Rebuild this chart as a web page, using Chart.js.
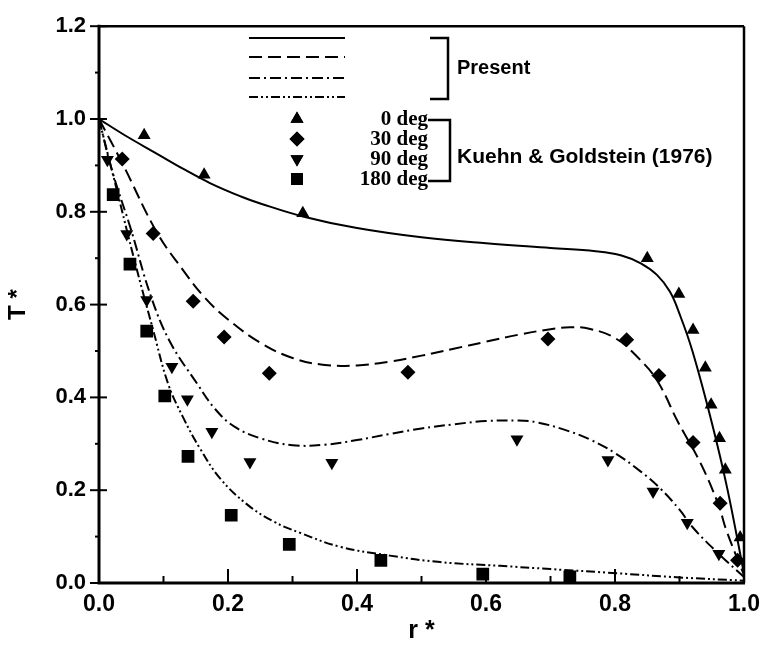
<!DOCTYPE html>
<html>
<head>
<meta charset="utf-8">
<script src="https://cdn.jsdelivr.net/npm/chart.js@4.4.1/dist/chart.umd.min.js"></script>
<style>
  html, body { margin: 0; padding: 0; background: #fff; }
  #wrap { width: 768px; height: 651px; }
</style>
</head>
<body>
<div id="wrap"><canvas id="graph" width="768" height="651"></canvas></div>
<script>
// present model curves, r* against T*
var present0R = [0, 0.04, 0.09, 0.13, 0.172, 0.22, 0.25, 0.316, 0.4, 0.5, 0.6, 0.7, 0.77, 0.81, 0.84, 0.865, 0.885, 0.9, 0.92, 0.95, 0.974, 1.0];
var present0T = [1.0, 0.965, 0.925, 0.893, 0.862, 0.833, 0.818, 0.79, 0.765, 0.745, 0.732, 0.722, 0.715, 0.706, 0.689, 0.664, 0.628, 0.58, 0.5, 0.346, 0.204, 0.02];

var present30R = [0, 0.036, 0.09, 0.13, 0.164, 0.2, 0.25, 0.3, 0.35, 0.4, 0.45, 0.5, 0.55, 0.6, 0.65, 0.7, 0.73, 0.76, 0.8, 0.834, 0.865, 0.898, 0.932, 0.96, 0.973, 1.0];
var present30T = [1.0, 0.905, 0.755, 0.675, 0.615, 0.568, 0.518, 0.485, 0.47, 0.469, 0.477, 0.49, 0.505, 0.52, 0.535, 0.547, 0.551, 0.548, 0.528, 0.488, 0.437, 0.346, 0.26, 0.17, 0.112, 0.017];

var present90R = [0, 0.02, 0.05, 0.08, 0.11, 0.152, 0.18, 0.21, 0.25, 0.3, 0.35, 0.4, 0.45, 0.5, 0.55, 0.6, 0.65, 0.68, 0.72, 0.76, 0.8, 0.84, 0.87, 0.9, 0.921, 0.96, 1.0];
var present90T = [1.0, 0.89, 0.76, 0.62, 0.52, 0.43, 0.375, 0.337, 0.312, 0.297, 0.298, 0.308, 0.321, 0.333, 0.342, 0.349, 0.35, 0.346, 0.331, 0.31, 0.28, 0.24, 0.204, 0.158, 0.119, 0.064, 0.013];

var present180R = [0, 0.028, 0.056, 0.084, 0.107, 0.13, 0.157, 0.188, 0.229, 0.27, 0.312, 0.374, 0.451, 0.529, 0.622, 0.7, 0.803, 0.9, 1.0];
var present180T = [1.0, 0.845, 0.69, 0.545, 0.43, 0.358, 0.289, 0.225, 0.17, 0.133, 0.108, 0.078, 0.059, 0.045, 0.037, 0.03, 0.021, 0.012, 0.005];

// Kuehn & Goldstein (1976) measurements
var kg0R = [0.07, 0.163, 0.316, 0.85, 0.899, 0.921, 0.94, 0.949, 0.962, 0.971, 0.994];
var kg0T = [0.965, 0.88, 0.797, 0.70, 0.623, 0.545, 0.464, 0.384, 0.312, 0.244, 0.098];

var kg30R = [0.036, 0.084, 0.146, 0.194, 0.264, 0.479, 0.696, 0.818, 0.868, 0.921, 0.963, 0.99];
var kg30T = [0.914, 0.753, 0.607, 0.53, 0.452, 0.454, 0.526, 0.524, 0.447, 0.303, 0.172, 0.049];

var kg90R = [0.013, 0.043, 0.074, 0.113, 0.137, 0.175, 0.234, 0.361, 0.648, 0.789, 0.859, 0.912, 0.961];
var kg90T = [0.912, 0.752, 0.61, 0.466, 0.396, 0.326, 0.261, 0.259, 0.31, 0.265, 0.197, 0.13, 0.063];

var kg180R = [0.022, 0.048, 0.074, 0.102, 0.138, 0.205, 0.295, 0.437, 0.595, 0.73];
var kg180T = [0.837, 0.687, 0.543, 0.403, 0.273, 0.146, 0.083, 0.049, 0.019, 0.013];

var angleLabels = ['0 deg', '30 deg', '90 deg', '180 deg'];
var dashes = [[], [13, 6], [11, 4, 2, 4], [9, 3, 2, 3, 2, 3]];
var markers = [
  { style: 'triangle', rot: 0 },
  { style: 'rectRot', rot: 0 },
  { style: 'triangle', rot: 180 },
  { style: 'rect', rot: 0 }
];

function pts(xs, ys) {
  return xs.map(function (v, i) { return { x: v, y: ys[i] }; });
}

var curves = [
  pts(present0R, present0T),
  pts(present30R, present30T),
  pts(present90R, present90T),
  pts(present180R, present180T)
];
var measured = [
  pts(kg0R, kg0T),
  pts(kg30R, kg30T),
  pts(kg90R, kg90T),
  pts(kg180R, kg180T)
];

var datasets = [];
curves.forEach(function (d, i) {
  datasets.push({
    data: d,
    showLine: true,
    borderColor: '#000',
    borderWidth: 2,
    borderDash: dashes[i],
    pointRadius: 0,
    tension: 0.4
  });
});
var radii = [7.5, 7.5, 7.5, 9];
measured.forEach(function (d, i) {
  datasets.push({
    data: d,
    showLine: false,
    pointStyle: markers[i].style,
    rotation: markers[i].rot,
    pointRadius: radii[i],
    backgroundColor: '#000',
    borderColor: '#000',
    borderWidth: 0
  });
});

var sans = '"Liberation Sans", Arial, sans-serif';
var serif = '"Liberation Serif", "Times New Roman", serif';

function isMajor(v) { return Math.round(v * 10) % 2 === 0; }

// box, tick marks and the key
var decor = {
  id: 'decor',
  afterDraw: function (chart) {
    var ctx = chart.ctx, a = chart.chartArea;
    var xs = chart.scales.x, ys = chart.scales.y;
    ctx.save();
    ctx.strokeStyle = '#000';
    ctx.fillStyle = '#000';

    // frame
    ctx.lineWidth = 2.5;
    ctx.beginPath();
    ctx.moveTo(a.left, a.top); ctx.lineTo(a.right, a.top);
    ctx.moveTo(a.right, a.top); ctx.lineTo(a.right, a.bottom);
    ctx.stroke();
    ctx.lineWidth = 3;
    ctx.beginPath();
    ctx.moveTo(a.left, a.top - 1.5); ctx.lineTo(a.left, a.bottom);
    ctx.lineTo(a.right + 1, a.bottom);
    ctx.stroke();

    // tick marks
    ctx.lineWidth = 2;
    ys.ticks.forEach(function (t) {
      var py = ys.getPixelForValue(t.value);
      ctx.beginPath();
      if (isMajor(t.value)) { ctx.moveTo(a.left - 9, py); ctx.lineTo(a.left + 8, py); }
      else { ctx.moveTo(a.left - 4, py); ctx.lineTo(a.left + 1, py); }
      ctx.stroke();
    });
    xs.ticks.forEach(function (t) {
      if (t.value <= 0 || t.value >= 1) return;
      var px = xs.getPixelForValue(t.value);
      ctx.beginPath();
      ctx.moveTo(px, a.bottom);
      ctx.lineTo(px, a.bottom - (isMajor(t.value) ? 14 : 7));
      ctx.stroke();
    });

    // key: line samples
    var lx0 = 249, lx1 = 345, ly = [38, 57, 78, 97];
    ctx.lineWidth = 2;
    ly.forEach(function (y, i) {
      ctx.setLineDash(dashes[i]);
      ctx.beginPath(); ctx.moveTo(lx0, y); ctx.lineTo(lx1, y); ctx.stroke();
    });
    ctx.setLineDash([]);

    ctx.lineWidth = 2.5;
    ctx.beginPath();
    ctx.moveTo(430, 38); ctx.lineTo(448, 38); ctx.lineTo(448, 99); ctx.lineTo(430, 99);
    ctx.stroke();

    ctx.font = 'bold 20px ' + sans;
    ctx.textAlign = 'left';
    ctx.textBaseline = 'middle';
    ctx.fillText('Present', 457, 68);

    // key: markers
    var my = [119, 139, 159, 179];
    my.forEach(function (y, i) {
      Chart.helpers.drawPoint(ctx, {
        pointStyle: markers[i].style,
        rotation: markers[i].rot,
        radius: i === 3 ? 8.5 : 7.5,
        borderWidth: 0
      }, 297, y);
      ctx.fill();
    });

    ctx.font = 'bold 21px ' + serif;
    ctx.textAlign = 'right';
    my.forEach(function (y, i) { ctx.fillText(angleLabels[i], 428, y + 1); });

    ctx.lineWidth = 2.5;
    ctx.beginPath();
    ctx.moveTo(428, 120); ctx.lineTo(450, 120); ctx.lineTo(450, 181); ctx.lineTo(428, 181);
    ctx.stroke();

    ctx.font = 'bold 21px ' + sans;
    ctx.textAlign = 'left';
    ctx.fillText('Kuehn & Goldstein (1976)', 457, 157);
    ctx.restore();
  }
};

new Chart(document.getElementById('graph').getContext('2d'), {
  type: 'scatter',
  data: { datasets: datasets },
  options: {
    responsive: false,
    devicePixelRatio: 1,
    animation: false,
    layout: { padding: { top: 17, right: 23, left: 0, bottom: 0 } },
    plugins: { legend: { display: false }, tooltip: { enabled: false } },
    scales: {
      x: {
        type: 'linear',
        min: 0, max: 1.0,
        afterFit: function (s) { s.height = 68; },
        grid: { display: false, drawTicks: false },
        border: { display: false },
        ticks: {
          stepSize: 0.1,
          padding: 8,
          color: '#000',
          font: { family: sans, size: 23, weight: 'bold' },
          maxRotation: 0,
          autoSkip: false,
          callback: function (v) { return isMajor(v) ? v.toFixed(1) : ''; }
        },
        title: {
          display: true, text: 'r *', color: '#000',
          font: { family: sans, size: 25, weight: 'bold' },
          padding: { top: 0, bottom: 5 }
        }
      },
      y: {
        type: 'linear',
        min: 0, max: 1.2,
        afterFit: function (s) { s.width = 99; },
        grid: { display: false, drawTicks: false },
        border: { display: false },
        ticks: {
          stepSize: 0.1,
          padding: 13,
          color: '#000',
          font: { family: sans, size: 22, weight: 'bold' },
          autoSkip: false,
          callback: function (v) { return isMajor(v) ? v.toFixed(1) : ''; }
        },
        title: {
          display: true, text: 'T *', color: '#000',
          font: { family: sans, size: 24, weight: 'bold' },
          padding: { top: 4, bottom: 0 }
        }
      }
    }
  },
  plugins: [decor]
});
</script>
</body>
</html>
